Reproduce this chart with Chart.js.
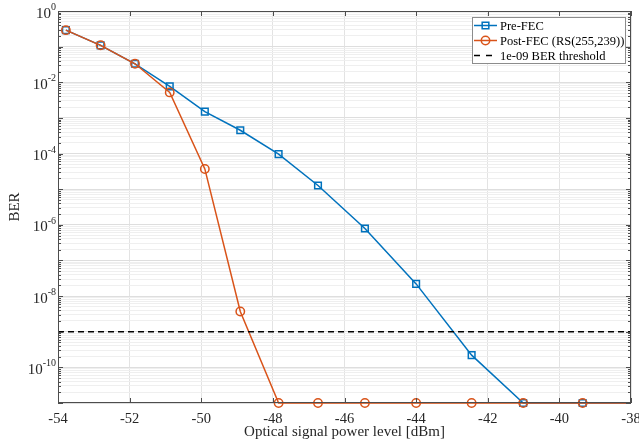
<!DOCTYPE html>
<html>
<head>
<meta charset="utf-8">
<script src="https://cdn.jsdelivr.net/npm/chart.js@4/dist/chart.umd.min.js"></script>
<style>
  html, body { margin: 0; padding: 0; background: #fff; }
  #chart { display: block; }
</style>
</head>
<body>
<canvas id="chart" width="639" height="444"></canvas>
<script>
// BER vs received optical power, pre/post RS(255,239) FEC
// (last point lies just past the right edge; only its line segment shows)
const power = [-53.78, -52.81, -51.85, -50.88, -49.90, -48.91, -47.84, -46.74, -45.43, -44.0, -42.45, -41.01, -39.35, -37.6];
const preFec = [0.29, 0.109, 0.033, 0.0077, 0.0015, 4.5e-4, 9.6e-5, 1.27e-5, 7.9e-7, 2.2e-8, 2.2e-10, 1e-11, 1e-11, 1e-11];
const postFec = [0.29, 0.109, 0.033, 0.0052, 3.7e-5, 3.7e-9, 1e-11, 1e-11, 1e-11, 1e-11, 1e-11, 1e-11, 1e-11, 1e-11];
const threshold = 1e-9;
const xRange = [-54, -38];
const yRange = [1e-11, 1];
const yLabelExps = [0, -2, -4, -6, -8, -10];

const FONT = '"Liberation Serif", "Times New Roman", serif';
const AXIS = '#4d4d4d';
const TEXT = '#262626';

// MATLAB-like box with inward tick marks, plus 10^n labels on the y axis
const boxPlugin = {
  id: 'box',
  afterDatasetsDraw(chart) {
    const { ctx, chartArea: a, scales } = chart;
    ctx.save();
    ctx.strokeStyle = AXIS;
    ctx.lineWidth = 1;
    ctx.strokeRect(a.left + 0.5, a.top + 0.5, a.right - a.left - 1, a.bottom - a.top - 1);
    ctx.beginPath();
    scales.x.ticks.forEach(t => {
      const px = Math.round(scales.x.getPixelForValue(t.value)) + 0.5;
      ctx.moveTo(px, a.bottom); ctx.lineTo(px, a.bottom - 5);
      ctx.moveTo(px, a.top); ctx.lineTo(px, a.top + 5);
    });
    scales.y.ticks.forEach(t => {
      const py = Math.round(scales.y.getPixelForValue(t.value)) + 0.5;
      const len = t.major ? 5 : 3;
      ctx.moveTo(a.left, py); ctx.lineTo(a.left + len, py);
      ctx.moveTo(a.right, py); ctx.lineTo(a.right - len, py);
    });
    ctx.stroke();

    ctx.fillStyle = TEXT;
    ctx.textBaseline = 'alphabetic';
    ctx.textAlign = 'left';
    yLabelExps.forEach(e => {
      const py = scales.y.getPixelForValue(Math.pow(10, e));
      ctx.font = '15px ' + FONT;
      const wBase = ctx.measureText('10').width;
      ctx.font = '10px ' + FONT;
      const wExp = ctx.measureText(String(e)).width;
      const x0 = a.left - 2 - wBase - wExp;
      ctx.font = '15px ' + FONT;
      ctx.fillText('10', x0, py + 6.5);
      ctx.font = '10px ' + FONT;
      ctx.fillText(String(e), x0 + wBase, py - 1);
    });
    ctx.restore();
  }
};

// legend drawn inside the plot, top right
const legendPlugin = {
  id: 'boxLegend',
  afterDraw(chart) {
    const { ctx, chartArea: a } = chart;
    const w = 153, h = 46, x0 = a.right - w - 6, y0 = a.top + 6;
    ctx.save();
    ctx.fillStyle = '#fff';
    ctx.fillRect(x0, y0, w, h);
    ctx.strokeStyle = '#8c8c8c';
    ctx.lineWidth = 1;
    ctx.strokeRect(x0 + 0.5, y0 + 0.5, w, h);
    ctx.font = '12.5px ' + FONT;
    ctx.textBaseline = 'middle';
    chart.data.datasets.forEach((ds, i) => {
      const cy = y0 + 8.5 + i * 15;
      ctx.strokeStyle = ds.borderColor;
      ctx.lineWidth = 1.5;
      ctx.setLineDash(ds.legendDash || []);
      ctx.beginPath();
      ctx.moveTo(x0 + 2, cy); ctx.lineTo(x0 + 25, cy);
      ctx.stroke();
      ctx.setLineDash([]);
      if (ds.pointRadius > 0) {
        ctx.fillStyle = 'rgba(0,0,0,0)';
        Chart.helpers.drawPoint(ctx, {
          pointStyle: ds.pointStyle, radius: ds.pointRadius, borderWidth: 1.5
        }, x0 + 13.5, cy);
      }
      ctx.fillStyle = '#000';
      ctx.fillText(ds.label, x0 + 28, cy + 1);
    });
    ctx.restore();
  }
};

const pts = ys => power.map((p, i) => ({ x: p, y: ys[i] }));
// markers may hang over the bottom/left edges, but nothing past the right edge
const edgeClip = { left: 10, top: 10, right: 0, bottom: 10 };

new Chart(document.getElementById('chart'), {
  type: 'line',
  data: {
    datasets: [
      {
        label: 'Pre-FEC',
        data: pts(preFec),
        borderColor: '#0072BD',
        backgroundColor: 'transparent',
        borderWidth: 1.5,
        pointStyle: 'rect',
        pointRadius: 4.7,
        pointBorderWidth: 1.5,
        clip: edgeClip,
        order: 2
      },
      {
        label: 'Post-FEC (RS(255,239))',
        data: pts(postFec),
        borderColor: '#D95319',
        backgroundColor: 'transparent',
        borderWidth: 1.5,
        pointStyle: 'circle',
        pointRadius: 4.2,
        pointBorderWidth: 1.5,
        clip: edgeClip,
        order: 1
      },
      {
        label: '1e-09 BER threshold',
        data: xRange.map(x => ({ x, y: threshold })),
        borderColor: '#000',
        borderWidth: 1.5,
        borderDash: [6, 4],
        legendDash: [6, 6],
        pointRadius: 0,
        order: 0
      }
    ]
  },
  options: {
    responsive: false,
    animation: false,
    layout: { padding: { top: 11, right: 8, left: 0, bottom: 0 } },
    plugins: { legend: { display: false }, tooltip: { enabled: false } },
    scales: {
      x: {
        type: 'linear',
        min: xRange[0],
        max: xRange[1],
        ticks: { stepSize: 2, color: TEXT, font: { family: FONT, size: 14.5 }, padding: 7, maxRotation: 0 },
        grid: { color: '#e3e3e3', drawTicks: false },
        border: { display: false },
        title: { display: true, text: 'Optical signal power level [dBm]', color: TEXT, font: { family: FONT, size: 15 }, padding: { top: 0, bottom: 3 } },
        afterFit(s) { s.height = 41; s.paddingLeft = 0; s.paddingRight = 0; }
      },
      y: {
        type: 'logarithmic',
        min: yRange[0],
        max: yRange[1],
        afterBuildTicks(s) {
          const ticks = [];
          for (let e = -11; e <= 0; e++) {
            ticks.push({ value: Math.pow(10, e), major: true });
            if (e < 0) for (let m = 2; m <= 9; m++) ticks.push({ value: m * Math.pow(10, e), major: false });
          }
          s.ticks = ticks;
        },
        ticks: { autoSkip: false, callback: () => '' },
        grid: {
          drawTicks: false,
          color: c => (c.tick && c.tick.major) ? '#dedede' : '#efefef'
        },
        border: { display: false },
        title: { display: true, text: 'BER', color: TEXT, font: { family: FONT, size: 15 }, padding: { top: 6, bottom: 0 } },
        afterFit(s) { s.width = 58; }
      }
    }
  },
  plugins: [boxPlugin, legendPlugin]
});
</script>
</body>
</html>
